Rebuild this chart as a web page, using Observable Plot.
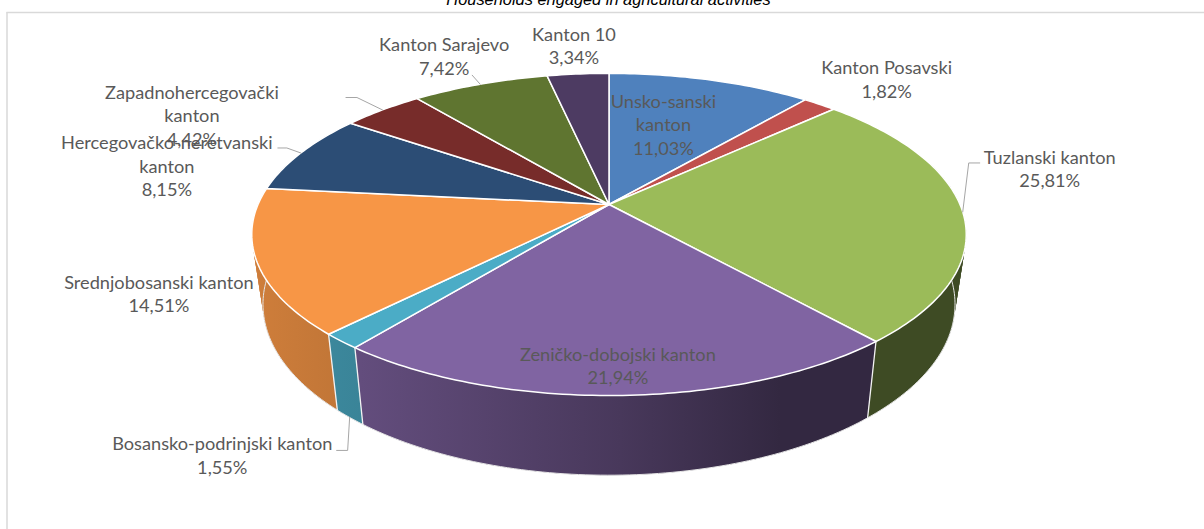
<!DOCTYPE html>
<html>
<head>
<meta charset="utf-8">
<script src="https://cdn.jsdelivr.net/npm/d3@7"></script>
<script src="https://cdn.jsdelivr.net/npm/@observablehq/plot@0.6"></script>
<style>
html,body{margin:0;padding:0;background:#fff;overflow:hidden}
svg{display:block}
</style>
</head>
<body>
<div id="chart"></div>
<script>
// ---- data ----
const cantons = ["Unsko-sanski kanton","Kanton Posavski","Tuzlanski kanton","Zeničko-dobojski kanton","Bosansko-podrinjski kanton","Srednjobosanski kanton","Hercegovačko-neretvanski kanton","Zapadnohercegovački kanton","Kanton Sarajevo","Kanton 10"];
const shares = [11.03,1.82,25.81,21.94,1.55,14.51,8.15,4.42,7.42,3.34];
const labelLines = ["Unsko-sanski\nkanton","Kanton Posavski","Tuzlanski kanton","Zeničko-dobojski kanton","Bosansko-podrinjski kanton","Srednjobosanski kanton","Hercegovačko-neretvanski\nkanton","Zapadnohercegovački\nkanton","Kanton Sarajevo","Kanton 10"];
const titleText = "Households engaged in agricultural activities";

// ---- styles / layout (separate from the values) ----
const palette = ["#4F81BD","#C0504D","#9BBB59","#8064A2","#4BACC6","#F79646","#2C4D75","#772C2A","#5F7530","#4D3B62"];
const W = 1204, H = 529;
const top3d = {cx:608.5, y0:204, A:351, B:155.5};
const bottom3d = {cx:608.5, y0:272, A:340, B:165};
const q = 0.186;
// label offset from the slice's rim midpoint to the first text line
const labelOffset = [[-47,20],[67,-37.5],[87,-55.5],[-1,-42.5],[-119,101.5],[-98,19.5],[-134,-11.5],[-190.5,-18.5],[-36,-40.5],[-4,-41]];
const leaderOffset = {2:[[6,-49],[17,-49]],6:[[-14,-5],[-23,-5]],7:[[-25.5,-12.4],[-36.5,-12.4]],8:[[-8,-9]]};
const lineGap = 23.5;
const labelSize = 18.2;

// ---- geometry derived from the shares ----
const project = (f, t) => {
  const s = Math.sin(t), c = Math.cos(t), w = 1 + q*c;
  return [f.cx + f.A*s/w, f.y0 - f.B*c/w];
};
const total = d3.sum(shares);
const cum = d3.cumsum(shares);
const startA = i => (i ? cum[i-1] : 0)/total*2*Math.PI;
const endA = i => cum[i]/total*2*Math.PI;
const midA = i => (startA(i)+endA(i))/2;
const shadeX = [250,360,620,780,960], shadeF = [.84,.77,.56,.40,.40];
const darker = (hex,f) => { const c=d3.rgb(hex); return d3.rgb(c.r*f,c.g*f,c.b*f).formatHex(); };
const step = Math.PI/180;

const topRows = [], sideRows = [], dividers = [], bottomRim = [];
shares.forEach((v,i)=>{
  const a0=startA(i), a1=endA(i), n=Math.max(2,Math.ceil((a1-a0)/step));
  const at=k=>a0+(a1-a0)*Math.min(k,n)/n;
  topRows.push({id:i,x:top3d.cx,y:top3d.y0,fill:palette[i]});
  d3.range(n+1).forEach(k=>{
    const p=project(top3d,at(k));
    topRows.push({id:i,x:p[0],y:p[1],fill:palette[i]});
  });
  topRows.push({id:i,x:top3d.cx,y:top3d.y0,fill:palette[i]});
  d3.range(n).forEach(k=>{
    const t0=at(k), t1=at(k+2);   // neighbours overlap so no seam shows
    if (Math.cos(t0)>0.25 && Math.cos(t1)>0.25) return;
    const a=project(top3d,t0), b=project(top3d,t1), c=project(bottom3d,t1), d=project(bottom3d,t0);
    [a,b,c,d,a].forEach(p=>sideRows.push({id:i+"-"+k,x:p[0],y:p[1],fill:`url(#side-${i})`}));
    const e=project(bottom3d,at(k+1));
    bottomRim.push({x:d[0],y:d[1],id:i},{x:e[0],y:e[1],id:i});
  });
  if (Math.cos(a1)<0) {
    const p=project(top3d,a1), r=project(bottom3d,a1);
    dividers.push({id:i,x:p[0],y:p[1]},{id:i,x:r[0],y:r[1]});
  }
});

const fmt = v => d3.format(".2f")(v).replace(".",",");
const labels = shares.map((v,i)=>{
  const r=project(top3d,midA(i));
  const text=labelLines[i]+"\n"+fmt(v)+"%";
  const n=text.split("\n").length;
  return {x:r[0]+labelOffset[i][0], y:r[1]+labelOffset[i][1]+(n-1)*lineGap/2, text};
});
const leaders=[];
Object.entries(leaderOffset).forEach(([i,off])=>{
  const r=project(top3d,midA(+i));
  [[0,0],...off].forEach(o=>leaders.push({id:i,x:r[0]+o[0],y:r[1]+o[1]}));
});
{
  const r=project(bottom3d,midA(4));
  [[0,0],[-2,33],[-13,33]].forEach(o=>leaders.push({id:"4",x:r[0]+o[0],y:r[1]+o[1]}));
}

// gradients for the shaded wall of the pie
const sideGradients = () => {
  const NS="http://www.w3.org/2000/svg";
  const defs=document.createElementNS(NS,"defs");
  palette.forEach((col,i)=>{
    const g=document.createElementNS(NS,"linearGradient");
    g.setAttribute("id",`side-${i}`);
    g.setAttribute("gradientUnits","userSpaceOnUse");
    g.setAttribute("x1",shadeX[0]); g.setAttribute("x2",shadeX[shadeX.length-1]);
    g.setAttribute("y1",0); g.setAttribute("y2",0);
    shadeX.forEach((x,k)=>{
      const s=document.createElementNS(NS,"stop");
      s.setAttribute("offset",(x-shadeX[0])/(shadeX[shadeX.length-1]-shadeX[0]));
      s.setAttribute("stop-color",darker(col,shadeF[k]));
      g.append(s);
    });
    defs.append(g);
  });
  return defs;
};

const chart = Plot.plot({
  width:W, height:H, margin:0,
  x:{domain:[0,W],range:[0,W],axis:null},
  y:{domain:[0,H],range:[0,H],axis:null},
  color:{type:"identity"},
  marks:[
    sideGradients,
    Plot.ruleX([6.5],{y1:12,y2:H,stroke:"#d9d9d9",strokeWidth:1.5}),
    Plot.ruleY([12],{x1:6.5,x2:W,stroke:"#d9d9d9",strokeWidth:1.5}),
    Plot.text([titleText],{x:()=>608,y:()=>-1,text:d=>d,fontFamily:"Liberation Sans",fontStyle:"italic",fontSize:16.4,fill:"#000"}),
    Plot.line(sideRows,{x:"x",y:"y",z:"id",fill:"fill",curve:"linear",stroke:null}),
    Plot.line(bottomRim,{x:"x",y:"y",z:"id",stroke:"#e6e6e6",strokeWidth:1,curve:"linear"}),
    Plot.line(dividers,{x:"x",y:"y",z:"id",stroke:"#f2f2f2",strokeWidth:1.3}),
    Plot.line(topRows,{x:"x",y:"y",z:"id",fill:"fill",stroke:"#ffffff",strokeWidth:1.5,strokeLinejoin:"round",curve:"linear"}),
    Plot.line(leaders,{x:"x",y:"y",z:"id",stroke:"#a6a6a6",strokeWidth:1,curve:"linear"}),
    Plot.text(labels,{x:"x",y:"y",text:"text",lineHeight:lineGap/labelSize,lineAnchor:"middle",fontFamily:"Lato",fontSize:labelSize,fill:"#595959"})
  ]
});
document.getElementById("chart").append(chart);
</script>
</body>
</html>
